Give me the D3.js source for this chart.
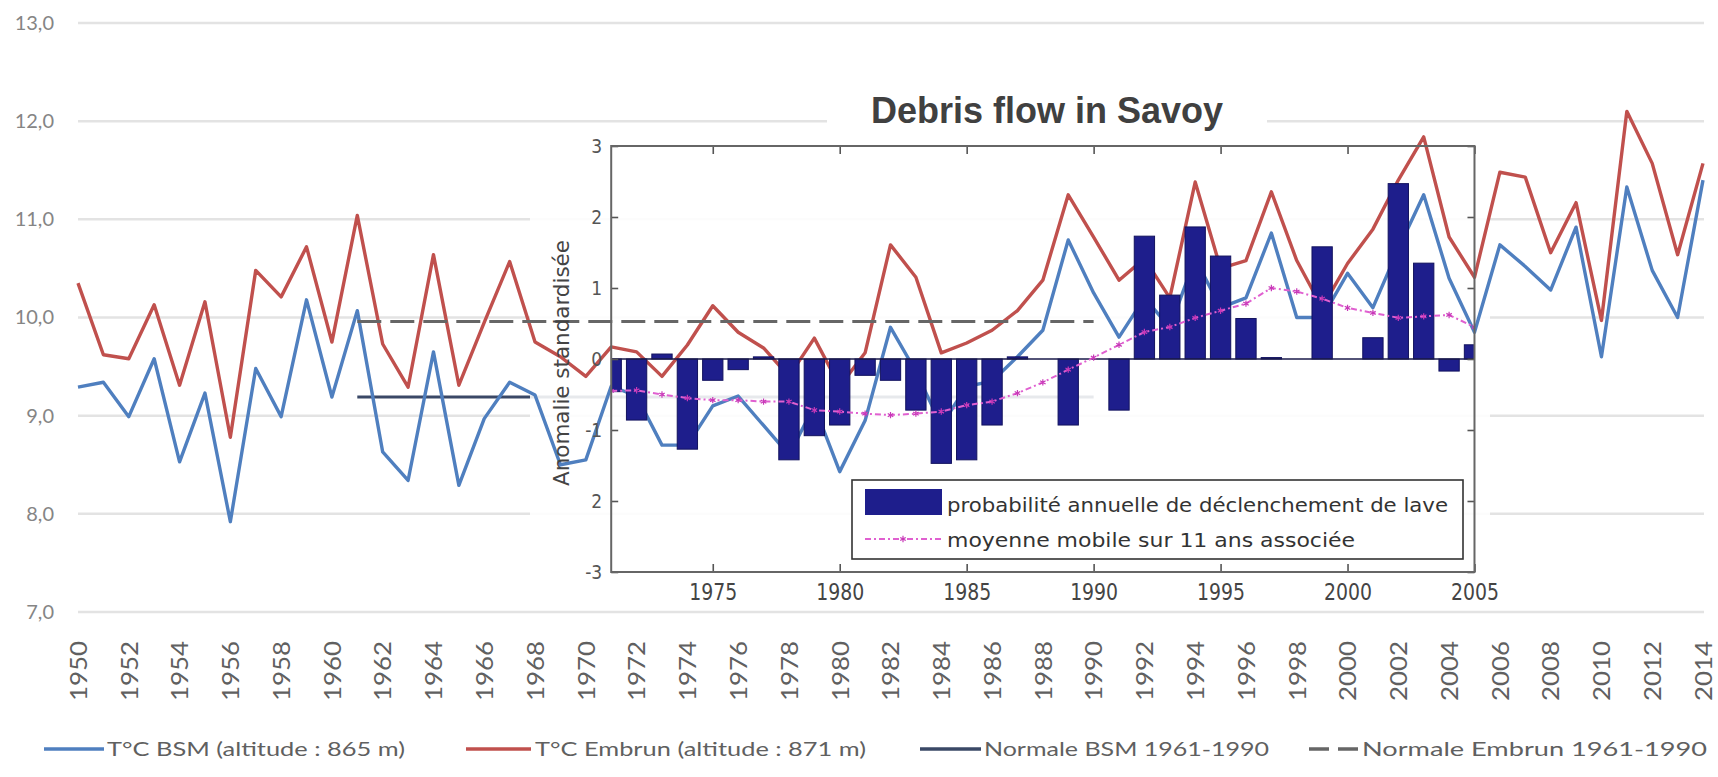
<!DOCTYPE html>
<html>
<head>
<meta charset="utf-8">
<script src="https://cdn.jsdelivr.net/npm/d3@7"></script>
<style>
  html, body { margin: 0; padding: 0; background: #fff; }
  svg { display: block; }
</style>
</head>
<body>
<svg id="chart" width="1718" height="777"></svg>
<script>
// ---- main chart: annual mean temperature (°C), 1950-2014
const years = d3.range(1950, 2015);
const tempBSM = [
  9.29, 9.34, 8.99, 9.58, 8.53, 9.23, 7.92, 9.48, 8.99, 10.18,
  9.19, 10.07, 8.63, 8.34, 9.65, 8.29, 8.97, 9.34, 9.21, 8.5,
  8.55, 9.3, 9.2, 8.7, 8.7, 9.1, 9.2, 8.9, 8.6, 9.1,
  8.43, 8.95, 9.9, 9.45, 8.9, 9.3, 9.35, 9.6, 9.87, 10.79,
  10.25, 9.8, 10.2, 9.9, 10.6, 10.1, 10.2, 10.86, 10.0, 10.0,
  10.45, 10.1, 10.7, 11.25, 10.4, 9.85, 10.74, 10.52, 10.28, 10.92,
  9.6, 11.33, 10.48, 10.0, 11.4
];
const tempEmbrun = [
  10.35, 9.62, 9.58, 10.13, 9.31, 10.16, 8.78, 10.48, 10.21, 10.72,
  9.75, 11.04, 9.73, 9.29, 10.64, 9.31, 9.95, 10.57, 9.75, 9.6,
  9.4, 9.7, 9.65, 9.4, 9.72, 10.12, 9.85, 9.69, 9.4, 9.79,
  9.3, 9.64, 10.74, 10.41, 9.64, 9.74, 9.87, 10.07, 10.38, 11.25,
  10.82, 10.38, 10.6, 10.2, 11.38, 10.5, 10.58, 11.28, 10.58, 10.1,
  10.55, 10.9, 11.4, 11.84, 10.82, 10.41, 11.48, 11.43, 10.66, 11.17,
  9.97, 12.1, 11.57, 10.64, 11.57
];
const normalYears = [1961, 1990];
const normalBSM = 9.19;
const normalEmbrun = 9.96;
const yTicks = [7, 8, 9, 10, 11, 12, 13];
const xLabelYears = years.filter(yr => yr % 2 === 0);
const legendLabels = ["T°C BSM (altitude : 865 m)", "T°C Embrun (altitude : 871 m)",
                      "Normale BSM 1961-1990", "Normale Embrun 1961-1990"];

// ---- inset: debris flow in Savoy (standardised anomaly)
const insetYears = d3.range(1971, 2006);
const debrisProb = [
  -0.46, -0.86, 0.07, -1.27, -0.3, -0.15, 0.03, -1.42, -1.08, -0.93,
  -0.23, -0.3, -0.72, -1.47, -1.42, -0.93, 0.03, 0, -0.93, 0,
  -0.72, 1.73, 0.9, 1.86, 1.45, 0.57, 0.02, 0, 1.58, 0,
  0.3, 2.47, 1.35, -0.17, 0.2
];
const movingAvg = [
  -0.45, -0.44, -0.5, -0.55, -0.58, -0.58, -0.6, -0.6, -0.72, -0.74,
  -0.77, -0.79, -0.77, -0.74, -0.65, -0.6, -0.48, -0.33, -0.15, 0.02,
  0.2, 0.38, 0.45, 0.58, 0.68, 0.78, 1.0, 0.95, 0.85, 0.72,
  0.65, 0.58, 0.6, 0.62, 0.45
];
const insetYTicks = [-3, -2, -1, 0, 1, 2, 3];
const insetYLabels = ["-3", "2", "-1", "0", "1", "2", "3"];
const insetXTicks = [1975, 1980, 1985, 1990, 1995, 2000, 2005];
const insetTitle = "Debris flow in Savoy";
const insetYTitle = "Anomalie standardisée";
const insetLegend = ["probabilité annuelle de déclenchement de lave", "moyenne mobile sur 11 ans associée"];

const BLUE = "#4f7fbf", RED = "#c0504d", NAVY = "#1e1e8c", PINK = "#e060d0";
const CAL = "Lato, 'Open Sans', sans-serif";
const NARROW = "'Liberation Sans Narrow', 'Arial Narrow', 'DejaVu Sans Condensed', sans-serif";

const svg = d3.select("#chart");

const x = d3.scalePoint().domain(years).range([78, 1703]);
const y = d3.scaleLinear().domain([7, 13]).range([612, 23]);

// gridlines
svg.append("g").selectAll("line").data(yTicks).join("line")
  .attr("x1", 78).attr("x2", 1704)
  .attr("y1", d => y(d)).attr("y2", d => y(d))
  .attr("stroke", "#e3e3e3").attr("stroke-width", 2.5);

// y labels
const yAx = svg.append("g").attr("transform", "translate(58,0)")
  .call(d3.axisLeft(y).tickValues(yTicks).tickSize(0).tickPadding(4)
    .tickFormat(d => d3.format(".1f")(d).replace(".", ",")));
yAx.select(".domain").remove();
yAx.selectAll("text").attr("font-family", CAL).attr("font-size", 20).attr("fill", "#858585");

// x labels, rotated
const xAx = svg.append("g").attr("transform", `translate(0,${y(7)})`)
  .call(d3.axisBottom(x).tickValues(xLabelYears).tickSize(0));
xAx.select(".domain").remove();
xAx.selectAll("text")
  .attr("transform", "translate(0,89) rotate(-90)")
  .attr("x", 0).attr("y", 0).attr("dy", "0.36em")
  .style("text-anchor", "start")
  .attr("font-family", CAL).attr("font-size", 23).attr("fill", "#606060")
  .attr("textLength", 60).attr("lengthAdjust", "spacingAndGlyphs");

// normal BSM (mostly hidden by the inset)
svg.append("line")
  .attr("x1", x(normalYears[0])).attr("x2", x(normalYears[1]))
  .attr("y1", y(normalBSM)).attr("y2", y(normalBSM))
  .attr("stroke", "#3a4866").attr("stroke-width", 3);

// inset backing
svg.append("rect").attr("x", 530).attr("y", 140).attr("width", 960).attr("height", 468)
  .attr("fill", "#fff").attr("opacity", 0.88);

// temperature lines
const tLine = d3.line().x((d, i) => x(years[i])).y(d => y(d));
svg.append("path").datum(tempBSM).attr("d", tLine)
  .attr("fill", "none").attr("stroke", BLUE).attr("stroke-width", 3.4).attr("stroke-linejoin", "round");
svg.append("path").datum(tempEmbrun).attr("d", tLine)
  .attr("fill", "none").attr("stroke", RED).attr("stroke-width", 3.4).attr("stroke-linejoin", "round");

// normal Embrun dashed
svg.append("line")
  .attr("x1", x(normalYears[0])).attr("x2", x(normalYears[1]))
  .attr("y1", y(normalEmbrun)).attr("y2", y(normalEmbrun))
  .attr("stroke", "#666").attr("stroke-width", 3).attr("stroke-dasharray", "24,9");

// ---- inset
const xi = d3.scaleLinear().domain([1971, 2005]).range([x(1971), x(2005)]);
const yi = d3.scaleLinear().domain([-3, 3]).range([572, 146]);
const [ix0, ix1] = xi.range(), [iy1, iy0] = yi.range();

svg.append("clipPath").attr("id", "inset-clip").append("rect")
  .attr("x", ix0).attr("y", iy0).attr("width", ix1 - ix0).attr("height", iy1 - iy0);
const gi = svg.append("g");
const plot = gi.append("g").attr("clip-path", "url(#inset-clip)");

const bw = (x.step()) * 0.8;
plot.selectAll("rect").data(debrisProb).join("rect")
  .attr("x", (d, i) => xi(insetYears[i]) - bw / 2)
  .attr("y", d => yi(Math.max(0, d)))
  .attr("width", bw)
  .attr("height", d => Math.abs(yi(d) - yi(0)))
  .attr("fill", NAVY).attr("stroke", "#12125e").attr("stroke-width", 1);
plot.append("line").attr("x1", ix0).attr("x2", ix1).attr("y1", yi(0)).attr("y2", yi(0))
  .attr("stroke", "#1a1a4a").attr("stroke-width", 1.5);

const maLine = d3.line().x((d, i) => xi(insetYears[i])).y(d => yi(d));
plot.append("path").datum(movingAvg).attr("d", maLine)
  .attr("fill", "none").attr("stroke", PINK).attr("stroke-width", 2).attr("stroke-dasharray", "6,3,2,3");
const star = d3.symbol(d3.symbolAsterisk || d3.symbolCross, 28);
plot.selectAll(".ma-mark").data(movingAvg).join("path").attr("class", "ma-mark")
  .attr("transform", (d, i) => `translate(${xi(insetYears[i])},${yi(d)})`)
  .attr("d", star).attr("fill", "none").attr("stroke", "#c838b8").attr("stroke-width", 1.2);

// inset axes (ticks inward)
const axB = gi.append("g").attr("transform", `translate(0,${iy1})`)
  .call(d3.axisBottom(xi).tickValues(insetXTicks).tickFormat(d3.format("d"))
    .tickSizeInner(-8).tickSizeOuter(0).tickPadding(12));
const axT = gi.append("g").attr("transform", `translate(0,${iy0})`)
  .call(d3.axisTop(xi).tickValues(insetXTicks).tickFormat("").tickSizeInner(-8).tickSizeOuter(0));
const axL = gi.append("g").attr("transform", `translate(${ix0},0)`)
  .call(d3.axisLeft(yi).tickValues(insetYTicks).tickFormat((d, i) => insetYLabels[i])
    .tickSizeInner(-7).tickSizeOuter(0).tickPadding(9));
const axR = gi.append("g").attr("transform", `translate(${ix1},0)`)
  .call(d3.axisRight(yi).tickValues(insetYTicks).tickFormat("").tickSizeInner(-7).tickSizeOuter(0));
[axB, axT, axL, axR].forEach(a => {
  a.select(".domain").remove();
  a.selectAll("line").attr("stroke", "#555").attr("stroke-width", 1.6);
});
axB.selectAll("text").attr("font-family", NARROW).attr("font-size", 23).attr("fill", "#444")
  .attr("textLength", 48).attr("lengthAdjust", "spacingAndGlyphs");
axL.selectAll("text").attr("font-family", NARROW).attr("font-size", 19).attr("fill", "#555");
gi.append("rect").attr("x", ix0).attr("y", iy0).attr("width", ix1 - ix0).attr("height", iy1 - iy0)
  .attr("fill", "none").attr("stroke", "#666").attr("stroke-width", 2);

gi.append("text").attr("transform", `translate(569,${yi(0) + 4}) rotate(-90)`)
  .attr("text-anchor", "middle").attr("font-family", NARROW).attr("font-size", 21).attr("fill", "#444")
  .attr("textLength", 246).attr("lengthAdjust", "spacingAndGlyphs").text(insetYTitle);

// inset legend
const lg = gi.append("g");
lg.append("rect").attr("x", 852).attr("y", 480).attr("width", 611).attr("height", 79)
  .attr("fill", "#fff").attr("stroke", "#333").attr("stroke-width", 1.6);
lg.append("rect").attr("x", 865).attr("y", 489).attr("width", 77).attr("height", 26).attr("fill", NAVY);
lg.append("line").attr("x1", 865).attr("x2", 942).attr("y1", 539).attr("y2", 539)
  .attr("stroke", PINK).attr("stroke-width", 2).attr("stroke-dasharray", "6,3,2,3");
lg.append("path").attr("transform", "translate(903,539)").attr("d", star)
  .attr("fill", "none").attr("stroke", "#c838b8").attr("stroke-width", 1.2);
lg.selectAll("text").data(insetLegend).join("text")
  .attr("x", 947).attr("y", (d, i) => 512 + i * 35)
  .attr("font-family", NARROW).attr("font-size", 20).attr("fill", "#333")
  .attr("textLength", (d, i) => [501, 408][i]).attr("lengthAdjust", "spacingAndGlyphs")
  .text(d => d);

// title on white patch
svg.append("rect").attr("x", 827).attr("y", 84).attr("width", 440).attr("height", 56).attr("fill", "#fff");
svg.append("text").attr("x", 1047).attr("y", 123).attr("text-anchor", "middle")
  .attr("font-family", "'Liberation Sans', Arial, sans-serif").attr("font-weight", "bold")
  .attr("font-size", 36).attr("fill", "#404040").text(insetTitle);

// ---- bottom legend
const legendLayout = [
  { x0: 44, x1: 104, tx: 107, len: 298, stroke: BLUE, dash: null },
  { x0: 466, x1: 531, tx: 535, len: 331, stroke: RED, dash: null },
  { x0: 920, x1: 981, tx: 984, len: 285, stroke: "#3a4866", dash: null },
  { x0: 1309, x1: 1359, tx: 1362, len: 345, stroke: "#666", dash: "20,9" }
];
const leg = svg.append("g").selectAll("g").data(legendLabels).join("g");
leg.append("line")
  .attr("x1", (d, i) => legendLayout[i].x0).attr("x2", (d, i) => legendLayout[i].x1)
  .attr("y1", 749).attr("y2", 749)
  .attr("stroke", (d, i) => legendLayout[i].stroke).attr("stroke-width", 3.5)
  .attr("stroke-dasharray", (d, i) => legendLayout[i].dash);
leg.append("text")
  .attr("x", (d, i) => legendLayout[i].tx).attr("y", 756)
  .attr("font-family", CAL).attr("font-size", 20).attr("fill", "#606060")
  .attr("textLength", (d, i) => legendLayout[i].len).attr("lengthAdjust", "spacingAndGlyphs")
  .text(d => d);
</script>
</body>
</html>
